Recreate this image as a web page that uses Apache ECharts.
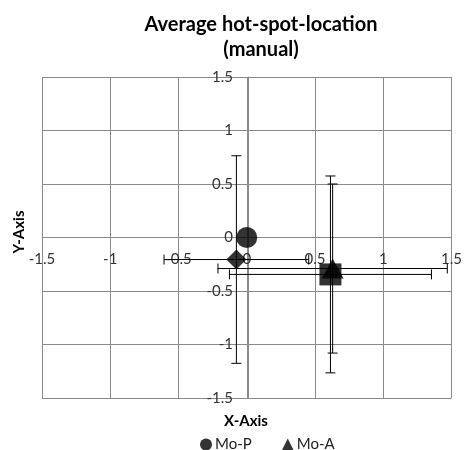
<!DOCTYPE html>
<html>
<head>
<meta charset="utf-8">
<script src="https://cdn.jsdelivr.net/npm/echarts@6/dist/echarts.min.js"></script>
<style>
  html, body { margin: 0; padding: 0; background: #fff; }
  #chart { width: 465px; height: 450px; }
</style>
</head>
<body>
<div id="chart"></div>
<script>
// hot-spot averages, one entry per marker
const seriesNames = ['Mo-P', 'Series 2', 'Mo-A', 'Series 4']
const xValues = [0.0, -0.076, 0.629, 0.613]
const yValues = [0.0, -0.206, -0.29, -0.345]
const xErrors = [0, 0.53, 0.84, 0.74]
const yErrors = [0, 0.97, 0.79, 0.92]
const axisTicks = [-1.5, -1, -0.5, 0, 0.5, 1, 1.5]

const font = 'Lato, "Open Sans", sans-serif'
const gridColor = '#8a8a8a'

const gridBox = { left: 42, right: 11, top: 77, bottom: 52 }
const plotW = 465 - gridBox.left - gridBox.right
const plotH = 450 - gridBox.top - gridBox.bottom

const chart = echarts.init(document.getElementById('chart'))

const markers = [
  { symbol: 'circle', size: 21 },
  { symbol: 'diamond', size: [20, 20] },
  { symbol: 'triangle', size: [22, 20] },
  { symbol: 'rect', size: 22 }
]

const errorData = xValues.map((x, i) => [x, yValues[i], xErrors[i], yErrors[i]])

// error bars with caps
const renderErrorBars = (params, api) => {
  const x = api.value(0), y = api.value(1)
  const ex = api.value(2), ey = api.value(3)
  if (!ex && !ey) return null
  const cap = 5
  const style = { stroke: '#000', lineWidth: 1 }
  const children = []
  const left = api.coord([x - ex, y])
  const right = api.coord([x + ex, y])
  const top = api.coord([x, y + ey])
  const bottom = api.coord([x, y - ey])
  children.push({ type: 'line', shape: { x1: left[0], y1: left[1], x2: right[0], y2: right[1] }, style })
  children.push({ type: 'line', shape: { x1: left[0], y1: left[1] - cap, x2: left[0], y2: left[1] + cap }, style })
  children.push({ type: 'line', shape: { x1: right[0], y1: right[1] - cap, x2: right[0], y2: right[1] + cap }, style })
  children.push({ type: 'line', shape: { x1: top[0], y1: top[1], x2: bottom[0], y2: bottom[1] }, style })
  children.push({ type: 'line', shape: { x1: top[0] - cap, y1: top[1], x2: top[0] + cap, y2: top[1] }, style })
  children.push({ type: 'line', shape: { x1: bottom[0] - cap, y1: bottom[1], x2: bottom[0] + cap, y2: bottom[1] }, style })
  return { type: 'group', children }
}

const axisCommon = {
  type: 'value',
  min: axisTicks[0],
  max: axisTicks[axisTicks.length - 1],
  interval: 0.5,
  axisLine: { onZero: false, lineStyle: { color: gridColor, width: 1 } },
  axisTick: { show: false },
  splitLine: { show: true, lineStyle: { color: gridColor, width: 1 } },
  axisLabel: {
    color: '#333',
    fontSize: 15,
    fontFamily: font,
    showMinLabel: true,
    showMaxLabel: true
  }
}

const options = {
  animation: false,
  title: {
    text: 'Average hot-spot-location\n(manual)',
    left: 256,
    top: 7,
    textAlign: 'center',
    textStyle: {
      fontSize: 20,
      fontWeight: 'bold',
      fontFamily: font,
      color: '#000',
      lineHeight: 25
    }
  },
  grid: gridBox,
  // axes pulled in to cross at zero
  xAxis: Object.assign({}, axisCommon, {
    offset: -plotH / 2,
    axisLabel: Object.assign({}, axisCommon.axisLabel, { margin: 14 })
  }),
  yAxis: Object.assign({}, axisCommon, {
    offset: -plotW / 2,
    axisLabel: Object.assign({}, axisCommon.axisLabel, { margin: 15 })
  }),
  legend: {
    top: 432,
    left: 195,
    itemGap: 30,
    itemWidth: 12,
    itemHeight: 12,
    selectedMode: false,
    textStyle: { fontSize: 15, fontFamily: font, color: '#222', padding: [0, 0, 0, -2] },
    data: [
      { name: 'Mo-P', icon: 'circle' },
      { name: 'Mo-A', icon: 'triangle' }
    ]
  },
  graphic: [
    {
      type: 'text',
      left: 224,
      top: 414,
      style: { text: 'X-Axis', fontSize: 15, fontWeight: 'bold', fontFamily: font, fill: '#000' }
    },
    {
      type: 'text',
      x: 19,
      y: 232,
      rotation: Math.PI / 2,
      style: {
        text: 'Y-Axis', fontSize: 15, fontWeight: 'bold', fontFamily: font, fill: '#000',
        align: 'center', verticalAlign: 'middle'
      }
    }
  ],
  series: [
    {
      name: 'errors',
      type: 'custom',
      renderItem: renderErrorBars,
      encode: { x: 0, y: 1 },
      data: errorData,
      z: 2,
      silent: true
    }
  ].concat(seriesNames.map((name, i) => ({
    name,
    type: 'scatter',
    symbol: markers[i].symbol,
    symbolSize: markers[i].size,
    itemStyle: { color: '#000' },
    z: 3 + i,
    data: [[xValues[i], yValues[i]]]
  })))
}

chart.setOption(options)
</script>
</body>
</html>
